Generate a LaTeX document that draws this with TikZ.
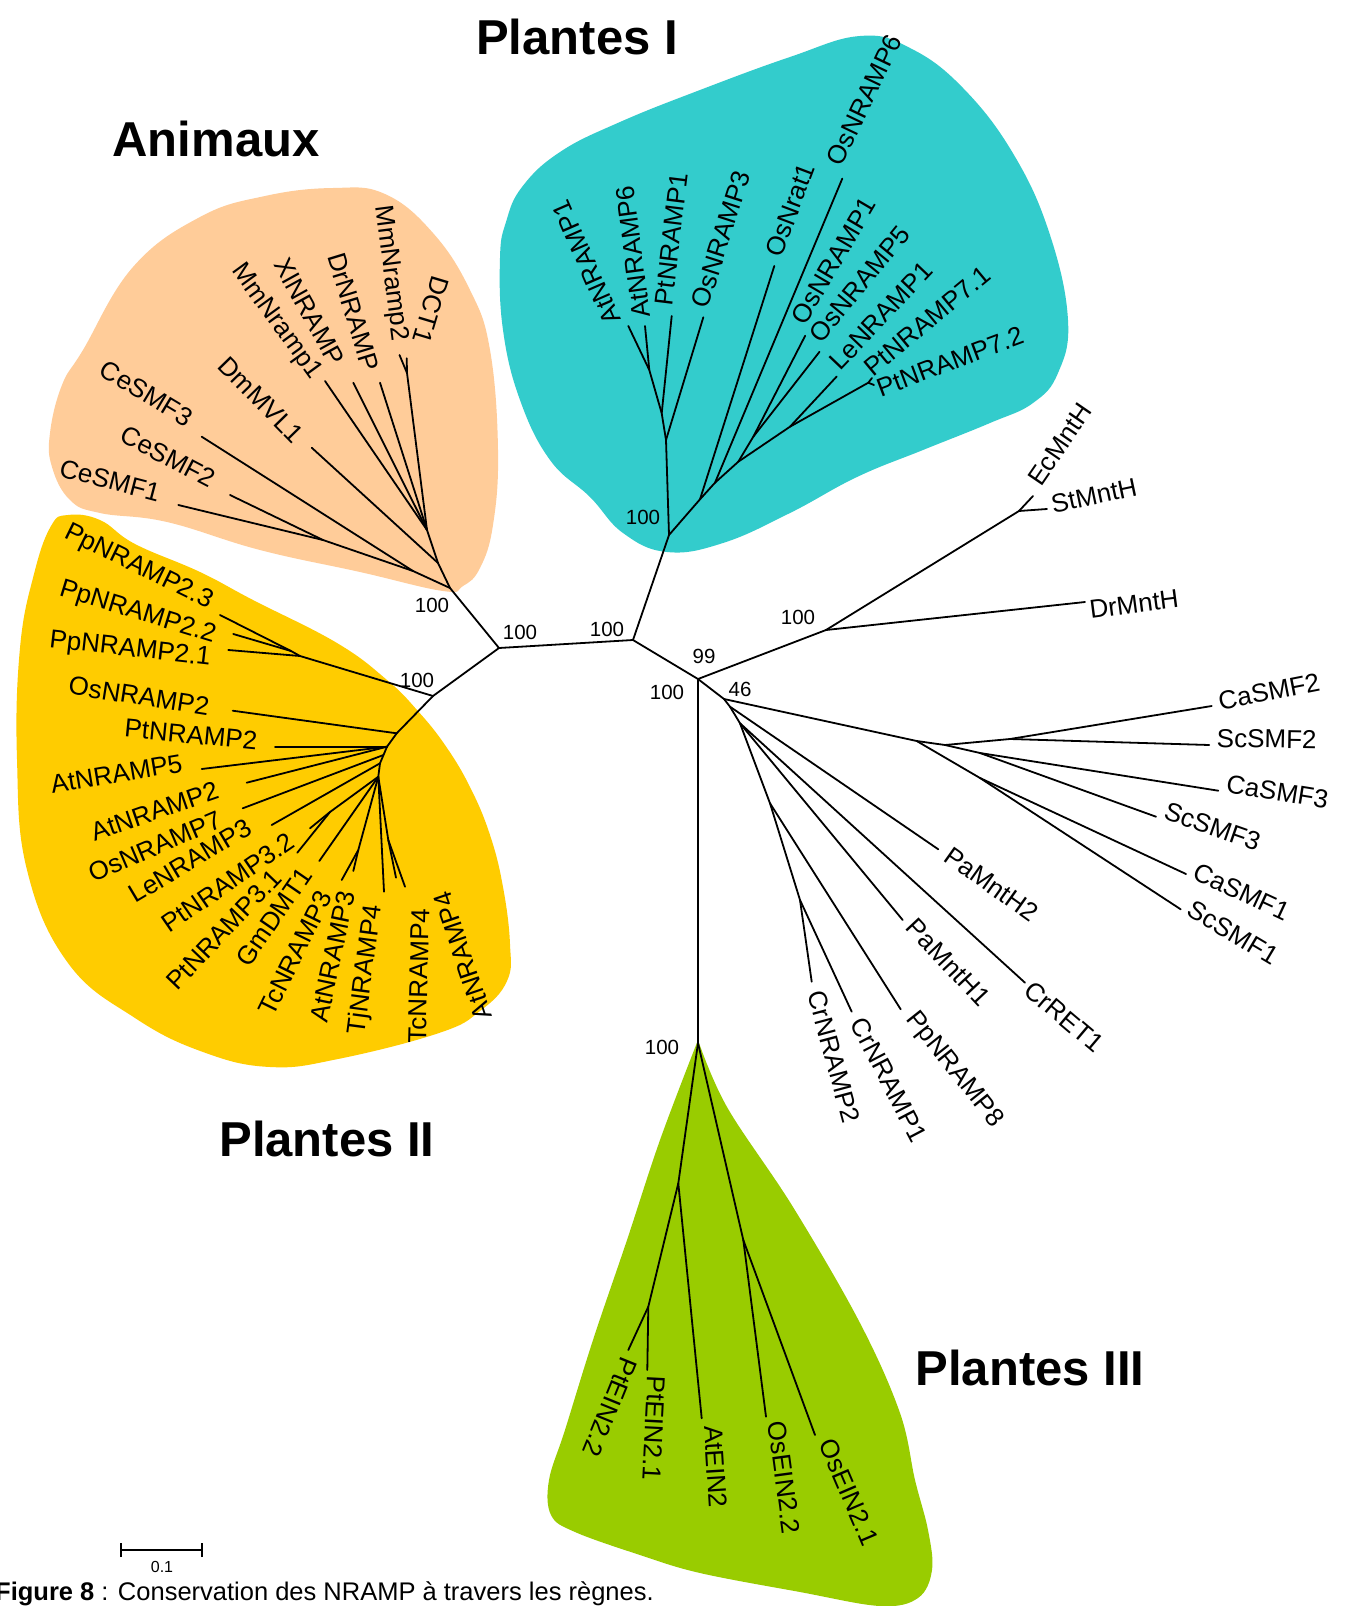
\documentclass[tikz,border=0pt]{standalone}
\usepackage{fontspec}
\setmainfont{Liberation Sans}
\definecolor{peachc}{RGB}{255,204,153}
\definecolor{cyanc}{RGB}{51,204,204}
\definecolor{yellc}{RGB}{255,204,0}
\definecolor{limec}{RGB}{153,204,0}
\newcommand\leafsz{\fontsize{26pt}{30pt}\selectfont}
\newcommand\bootsz{\fontsize{20.5pt}{24pt}\selectfont}
\newcommand\titlesz{\fontsize{49pt}{56pt}\selectfont\bfseries}
\newcommand\capsz{\fontsize{25.5pt}{30pt}\selectfont}
\tikzset{
  br/.style={line width=1.8pt, line cap=round, line join=round},
  lab/.style={font=\leafsz, inner sep=0pt, anchor=center},
  boot/.style={font=\bootsz, inner sep=0pt, anchor=center},
  ttl/.style={font=\titlesz, inner sep=0pt, anchor=base},
}
\begin{document}
\begin{tikzpicture}[x=1pt,y=-1pt]
\useasboundingbox (0,0) rectangle (1348,1606);
\fill[white] (0,0) rectangle (1348,1606);

% ---------- clade backgrounds ----------
\fill[peachc] plot[smooth cycle, tension=0.7] coordinates {(333,188) (385,194) (433,233) (470,290) (490,350) (498,450) (493,525) (480,568) (463,586) (443,591) (360,572) (260,550) (167,522) (100,513) (70,500) (52,467) (50,433) (62,385) (83,350) (133,267) (200,217) (265,196)};
\fill[cyanc] plot[smooth cycle, tension=0.7] coordinates {(500,258) (503,330) (520,400) (550,460) (590,497) (623,533) (667,552) (723,543) (790,513) (857,477) (923,450) (990,423) (1033,403) (1058,373) (1068,320) (1050,235) (1014,155) (963,88) (910,48) (860,36) (790,57) (700,90) (620,122) (560,152) (522,187) (506,222)};
\fill[yellc] plot[smooth cycle, tension=0.7] coordinates {(51,526) (68,515) (100,520) (135,544) (200,572) (253,600) (337,643) (387,680) (417,710) (445,745) (470,787) (490,835) (503,887) (510,944) (507,981) (480,1011) (439,1033) (338,1059) (270,1067) (203,1052) (135,1018) (68,963) (27,870) (17,759) (20,648) (34,574)};
\fill[limec] plot[smooth, tension=0.6] coordinates {(698,1040) (660,1140) (627,1240) (593,1340) (565,1430) (549,1480) (551,1515) (575,1532) (640,1555) (700,1573) (800,1592) (880,1606) (918,1598) (932,1570) (928,1530) (915,1480) (900,1413) (860,1323) (793,1207) (727,1107) (698,1040)} -- cycle;

% ---------- backbone ----------
\coordinate (A) at (499,648);
\coordinate (B) at (633,640);
\coordinate (C) at (698,679);
\coordinate (AR) at (450,588);
\coordinate (P2R) at (433,696);
\coordinate (P1R) at (669,535);
\coordinate (M) at (826,630);
\coordinate (N46) at (724,699);
\coordinate (P3R) at (698,1043);
\draw[br] (AR) -- (A) -- (P2R);
\draw[br] (A) -- (B) -- (P1R);
\draw[br] (B) -- (C) -- (M);
\draw[br] (C) -- (N46);
\draw[br] (C) -- (P3R);

% ---------- Animaux ----------
\coordinate (Ce12) at (323,540);
\coordinate (Ce123) at (413,571);
\coordinate (Vd) at (438,563);
\coordinate (V) at (427,530);
\coordinate (Vp) at (407,373);
\coordinate (tCe3) at (201.7,436.7);
\coordinate (tCe2) at (230,495);
\coordinate (tCe1) at (178.3,505);
\coordinate (tDm) at (311.7,447.7);
\coordinate (tMm1) at (325,381);
\coordinate (tXl) at (353.3,382.7);
\coordinate (tDrN) at (380,382.7);
\coordinate (tMm2) at (399.5,355);
\coordinate (tDCT) at (406.7,358.3);
\draw[br] (AR) -- (Ce123) -- (Ce12) -- (tCe1);
\draw[br] (Ce12) -- (tCe2);
\draw[br] (Ce123) -- (tCe3);
\draw[br] (AR) -- (Vd) -- (tDm);
\draw[br] (Vd) -- (V) -- (tMm1);
\draw[br] (V) -- (tXl);
\draw[br] (V) -- (tDrN);
\draw[br] (V) -- (Vp) -- (tMm2);
\draw[br] (Vp) -- (tDCT);

\node[lab, rotate=-82.7] (lMm2) at (390.5,273.5) {MmNramp2};
\node[lab, rotate=-106.7] (lDCT) at (431,310) {DCT1};
\node[lab, rotate=-73] (lDrN) at (353.5,312) {DrNRAMP};
\node[lab, rotate=-61] (lXl) at (310,311.5) {XlNRAMP};
\node[lab, rotate=-54] (lMm1) at (276,322) {MmNramp1};
\node[lab, rotate=-45.7] (lDm) at (261,400) {DmMVL1};
\node[lab, rotate=-31] (lCe3) at (146.5,393.5) {CeSMF3};
\node[lab, rotate=-27.6] (lCe2) at (168,456.5) {CeSMF2};
\node[lab, rotate=-14.6] (lCe1) at (110,480.5) {CeSMF1};

% ---------- Plantes I ----------
\coordinate (Na) at (666,440);
\coordinate (Nc) at (661.7,413.3);
\coordinate (Nd) at (649.3,370);
\coordinate (N1) at (700,499.3);
\coordinate (N2) at (715,482.7);
\coordinate (N3) at (738.3,461.7);
\coordinate (N3b) at (753.3,436.7);
\coordinate (N4) at (790,426.7);
\coordinate (N7) at (868.3,382.7);
\coordinate (tAt1) at (628.3,326);
\coordinate (tAt6) at (645,326);
\coordinate (tPt1) at (671.7,316);
\coordinate (tOs3) at (703.3,317.3);
\coordinate (tOsr) at (774.3,266);
\coordinate (tOs6) at (842.3,178.6);
\coordinate (tOs1) at (805.2,335.7);
\coordinate (tOs5) at (819.5,351.8);
\coordinate (tLe1) at (836.7,376.5);
\coordinate (tPt71) at (872,378);
\coordinate (tPt72) at (874,385);
\draw[br] (P1R) -- (Na) -- (Nc) -- (Nd) -- (tAt1);
\draw[br] (Nd) -- (tAt6);
\draw[br] (Nc) -- (tPt1);
\draw[br] (Na) -- (tOs3);
\draw[br] (P1R) -- (N1) -- (N2) -- (N3) -- (N4) -- (N7) -- (tPt71);
\draw[br] (N7) -- (tPt72);
\draw[br] (N1) -- (tOsr);
\draw[br] (N2) -- (tOs6);
\draw[br] (N3) -- (N3b) -- (tOs1);
\draw[br] (N3b) -- (tOs5);
\draw[br] (N4) -- (tLe1);

\node[lab, rotate=113.6] (lAt1) at (586.6,262.5) {AtNRAMP1};
\node[lab, rotate=97.6] (lAt6) at (633,251.8) {AtNRAMP6};
\node[lab, rotate=83] (lPt1) at (671.6,239.3) {PtNRAMP1};
\node[lab, rotate=72.2] (lOs3) at (721,239.2) {OsNRAMP3};
\node[lab, rotate=69.3] (lOsr) at (790,209.8) {OsNrat1};
\node[lab, rotate=64.5] (lOs6) at (864.3,100) {OsNRAMP6};
\node[lab, rotate=59.5] (lOs1) at (833.6,260.5) {OsNRAMP1};
\node[lab, rotate=50.6] (lOs5) at (859.4,284) {OsNRAMP5};
\node[lab, rotate=46.4] (lLe1) at (881,316) {LeNRAMP1};
\node[lab, rotate=39.6] (lPt71) at (927.5,321) {PtNRAMP7.1};
\node[lab, rotate=20.6] (lPt72) at (950,361.5) {PtNRAMP7.2};

% ---------- Plantes II ----------
\coordinate (Pp23) at (291,651);
\coordinate (Ppall) at (300,656);
\coordinate (Q1) at (396.7,733.3);
\coordinate (Q2) at (387,746.7);
\coordinate (Q2b) at (383.5,755);
\coordinate (Q3) at (380,763.3);
\coordinate (Q5) at (378.3,776.7);
\coordinate (Npt3) at (330,812);
\coordinate (Nat3) at (358.3,850);
\coordinate (NT4) at (388.3,840);
\coordinate (tPp23) at (220,615);
\coordinate (tPp22) at (233.3,634);
\coordinate (tPp21) at (228.3,650);
\coordinate (tOs2) at (232.7,710.7);
\coordinate (tPt2) at (275,746.7);
\coordinate (tAt5) at (201.7,769);
\coordinate (tAt2) at (246.7,782.7);
\coordinate (tOs7) at (242.7,808.3);
\coordinate (tLe3) at (271.7,825);
\coordinate (tPt32) at (310,828.3);
\coordinate (tPt31) at (297.3,852.7);
\coordinate (tGm) at (319.3,861);
\coordinate (tTc3) at (341.7,880);
\coordinate (tAt3) at (353.3,871);
\coordinate (tTj4) at (384,891.7);
\coordinate (tTc4) at (396,877.7);
\coordinate (tAt4) at (405,886.7);
\draw[br] (P2R) -- (Ppall) -- (Pp23) -- (tPp23);
\draw[br] (Pp23) -- (tPp22);
\draw[br] (Ppall) -- (tPp21);
\draw[br] (P2R) -- (Q1) -- (Q2) -- (Q2b) -- (Q3) -- (Q5);
\draw[br] (Q1) -- (tOs2);
\draw[br] (Q2) -- (tPt2);
\draw[br] (Q2) -- (tAt5);
\draw[br] (Q2) -- (tAt2);
\draw[br] (Q2b) -- (tOs7);
\draw[br] (Q3) -- (tLe3);
\draw[br] (Q5) -- (Npt3) -- (tPt32);
\draw[br] (Npt3) -- (tPt31);
\draw[br] (Q5) -- (tGm);
\draw[br] (Q5) -- (Nat3) -- (tTc3);
\draw[br] (Nat3) -- (tAt3);
\draw[br] (Q5) -- (tTj4);
\draw[br] (Q5) -- (NT4) -- (tTc4);
\draw[br] (NT4) -- (tAt4);

\node[lab, rotate=-26.1] (lPp23) at (138.5,567.5) {PpNRAMP2.3};
\node[lab, rotate=-17] (lPp22) at (137.5,613) {PpNRAMP2.2};
\node[lab, rotate=-6.5] (lPp21) at (130,650) {PpNRAMP2.1};
\node[lab, rotate=-8.9] (lOs2) at (139,696) {OsNRAMP2};
\node[lab, rotate=-5.6] (lPt2) at (191,734.5) {PtNRAMP2};
\node[lab, rotate=9.5] (lAt5) at (116.5,774) {AtNRAMP5};
\node[lab, rotate=19.1] (lAt2) at (154.5,811) {AtNRAMP2};
\node[lab, rotate=23.1] (lOs7) at (155.5,846.5) {OsNRAMP7};
\node[lab, rotate=30.8] (lLe3) at (190,861) {LeNRAMP3};
\node[lab, rotate=34.6] (lPt32) at (228,882.5) {PtNRAMP3.2};
\node[lab, rotate=46.3] (lPt31) at (224,929.5) {PtNRAMP3.1};
\node[lab, rotate=55.5] (lGm) at (274,916.5) {GmDMT1};
\node[lab, rotate=63.8] (lTc3) at (295.5,953) {TcNRAMP3};
\node[lab, rotate=78.1] (lAt3) at (332.7,956.7) {AtNRAMP3};
\node[lab, rotate=82.5] (lTj4) at (366,970) {TjNRAMP4};
\node[lab, rotate=88.6] (lTc4) at (419,975.8) {TcNRAMP4};
\node[lab, rotate=108.7] (lAt4) at (463,956) {AtNRAMP4};

% ---------- bacteria ----------
\coordinate (E) at (1019,511);
\coordinate (tEc) at (1033,496);
\coordinate (tSt) at (1047,509);
\coordinate (tDrM) at (1085,602);
\draw[br] (M) -- (E) -- (tEc);
\draw[br] (E) -- (tSt);
\draw[br] (M) -- (tDrM);
\node[lab, rotate=55.6] (lEc) at (1060,444.5) {EcMntH};
\node[lab, rotate=12] (lSt) at (1094,495.5) {StMntH};
\node[lab, rotate=7.5] (lDrM) at (1134,604) {DrMntH};

% ---------- fungi and others ----------
\coordinate (n1) at (730,706.7);
\coordinate (n2) at (740,723.3);
\coordinate (n3) at (770,803.3);
\coordinate (n4) at (800,900);
\coordinate (F) at (916.7,741);
\coordinate (F2) at (945,745);
\coordinate (F3) at (1010,739);
\coordinate (F4) at (980,753);
\coordinate (F5) at (980,778);
\coordinate (tPaH2) at (938.3,849.3);
\coordinate (tCrR) at (1025,982.7);
\coordinate (tPaH1) at (902.7,920);
\coordinate (tPp8) at (900.7,1009.3);
\coordinate (tCr1) at (851.7,1011.7);
\coordinate (tCr2) at (811.7,981.7);
\coordinate (tCa2) at (1211.7,706);
\coordinate (tSc2) at (1209.3,745);
\coordinate (tCa3) at (1218.3,790.7);
\coordinate (tSc3) at (1156,816.7);
\coordinate (tCa1) at (1186,874);
\coordinate (tSc1) at (1180.7,909.3);
\draw[br] (N46) -- (n1) -- (tPaH2);
\draw[br] (n1) -- (n2) -- (tCrR);
\draw[br] (n2) -- (tPaH1);
\draw[br] (n2) -- (n3) -- (tPp8);
\draw[br] (n3) -- (n4) -- (tCr1);
\draw[br] (n4) -- (tCr2);
\draw[br] (N46) -- (F) -- (F2) -- (F3) -- (tCa2);
\draw[br] (F3) -- (tSc2);
\draw[br] (F2) -- (F4) -- (tCa3);
\draw[br] (F4) -- (tSc3);
\draw[br] (F) -- (F5) -- (tCa1);
\draw[br] (F5) -- (tSc1);

\node[lab, rotate=11.1] (lCa2) at (1269,691.7) {CaSMF2};
\node[lab, rotate=-1] (lSc2) at (1266.7,739) {ScSMF2};
\node[lab, rotate=-9.3] (lCa3) at (1277.5,791.7) {CaSMF3};
\node[lab, rotate=-19.3] (lSc3) at (1212.5,826.7) {ScSMF3};
\node[lab, rotate=-24.9] (lCa1) at (1241.7,891.7) {CaSMF1};
\node[lab, rotate=-30.8] (lSc1) at (1233.3,932.5) {ScSMF1};
\node[lab, rotate=-35.4] (lPaH2) at (991.7,884.2) {PaMntH2};
\node[lab, rotate=-46.9] (lPaH1) at (948.3,962.5) {PaMntH1};
\node[lab, rotate=-40.2] (lCrR) at (1064.2,1016.7) {CrRET1};
\node[lab, rotate=-51.5] (lPp8) at (954,1070) {PpNRAMP8};
\node[lab, rotate=-62.4] (lCr1) at (889,1080) {CrNRAMP1};
\node[lab, rotate=-75] (lCr2) at (834,1057) {CrNRAMP2};

% ---------- Plantes III ----------
\coordinate (G1) at (678.3,1183.3);
\coordinate (G2) at (743.3,1240);
\coordinate (G3) at (648.3,1306.7);
\coordinate (tPtE22) at (628.3,1350);
\coordinate (tPtE21) at (647.3,1370);
\coordinate (tAtE) at (701.7,1418.3);
\coordinate (tOsE22) at (766,1416.7);
\coordinate (tOsE21) at (815,1435);
\draw[br] (P3R) -- (G1) -- (tAtE);
\draw[br] (G1) -- (G3) -- (tPtE22);
\draw[br] (G3) -- (tPtE21);
\draw[br] (P3R) -- (G2) -- (tOsE22);
\draw[br] (G2) -- (tOsE21);
\node[lab, rotate=-112.1] (lPtE22) at (610,1407.5) {PtEIN2.2};
\node[lab, rotate=-93] (lPtE21) at (654.2,1428.3) {PtEIN2.1};
\node[lab, rotate=-86.4] (lAtE) at (715.8,1466.7) {AtEIN2};
\node[lab, rotate=-82.3] (lOsE22) at (784.2,1477.5) {OsEIN2.2};
\node[lab, rotate=-66.8] (lOsE21) at (849,1492) {OsEIN2.1};

% ---------- bootstrap values ----------
\node[boot] (bAR) at (432,605) {100};
\node[boot] (bP2) at (417,680) {100};
\node[boot] (bA) at (520,632) {100};
\node[boot] (bB) at (607,629) {100};
\node[boot] (bP1) at (643,517) {100};
\node[boot] (bM) at (798,617) {100};
\node[boot] (bC) at (704,656) {99};
\node[boot] (bC2) at (667,692) {100};
\node[boot] (b46) at (740,689) {46};
\node[boot] (bP3) at (662,1047) {100};

% ---------- titles ----------
\node[ttl] (tI) at (577,54) {Plantes I};
\node[ttl] (tAn) at (216,156) {Animaux};
\node[ttl] (tII) at (327,1156) {Plantes II};
\node[ttl] (tIII) at (1030,1385) {Plantes III};

% ---------- scale bar and caption ----------
\coordinate (sb1) at (121,1550);
\coordinate (sb2) at (202,1550);
\draw[line width=1.6pt] (sb1) -- (sb2);
\draw[line width=1.6pt] ([yshift=-7pt]sb1) -- ([yshift=7pt]sb1);
\draw[line width=1.6pt] ([yshift=-7pt]sb2) -- ([yshift=7pt]sb2);
\node[font=\fontsize{16pt}{19pt}\selectfont, inner sep=0pt] (sbl) at (162,1567) {0.1};
\node[font=\capsz, inner sep=0pt, anchor=base west] (cap) at (-5,1600) {\textbf{Figure 8} : Conservation des NRAMP à travers les règnes.};
\end{tikzpicture}
\end{document}
